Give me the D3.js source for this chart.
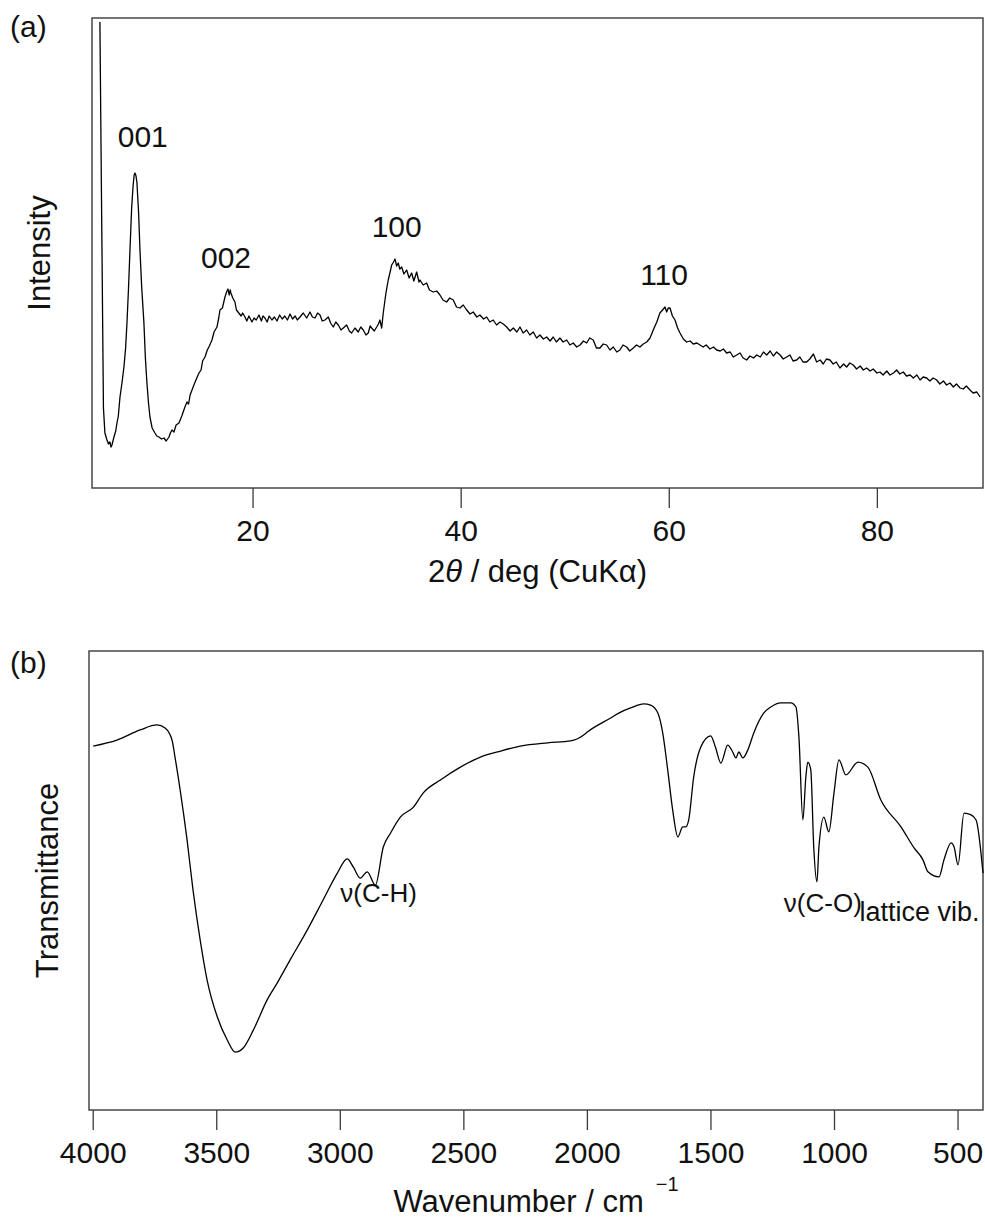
<!DOCTYPE html>
<html>
<head>
<meta charset="utf-8">
<script src="https://cdn.jsdelivr.net/npm/d3@7"></script>
<style>
    body { margin: 0; background: #fff; }
    text { font-family: "Liberation Sans", Arial, Helvetica, sans-serif; fill: #111; }
</style>
</head>
<body>
<svg id="fig" width="985" height="1221"></svg>
<script>
// ---- (a) XRD pattern, 2theta in deg, intensity in arb. units ----
const xrdTwoTheta = [
    5.33, 5.47, 5.67, 5.81, 6.01, 6.15, 6.29, 6.40, 6.49, 6.68, 6.85, 6.97, 7.10, 7.26, 7.45, 7.64, 7.80, 7.93,
    8.08, 8.22, 8.38, 8.51, 8.62, 8.70, 8.80, 8.89, 9.05, 9.18, 9.35, 9.56, 9.70, 9.85, 10.00, 10.14, 10.35, 10.62,
    10.80, 11.00, 11.25, 11.49, 11.70, 11.97, 12.10, 12.26, 12.45, 12.65, 12.93, 13.20, 13.50, 13.70, 13.85, 14.00,
    14.18, 14.40, 14.60, 14.85, 15.05, 15.20, 15.43, 15.65, 15.85, 16.10, 16.30, 16.58, 16.75, 16.87, 17.10, 17.35,
    17.50, 17.64, 17.75, 17.85, 17.92, 18.10, 18.31, 18.45, 18.60, 18.90, 19.05, 19.27, 19.45, 19.65, 19.94, 20.15,
    20.35, 20.62, 20.85, 21.00, 21.19, 21.40, 21.60, 21.86, 22.10, 22.35, 22.60, 22.85, 23.10, 23.35, 23.60, 23.85,
    24.10, 24.30, 24.56, 24.87, 25.20, 25.52, 25.75, 26.00, 26.25, 26.48, 26.70, 26.96, 27.28, 27.50, 27.76, 28.00,
    28.24, 28.50, 28.72, 29.04, 29.30, 29.52, 29.84, 30.16, 30.40, 30.64, 30.90, 31.12, 31.30, 31.45, 31.70, 31.93,
    32.10, 32.24, 32.41, 32.56, 32.82, 33.04, 33.20, 33.37, 33.55, 33.69, 33.85, 34.00, 34.15, 34.33, 34.55, 34.81,
    35.05, 35.29, 35.50, 35.77, 36.00, 36.09, 36.40, 36.73, 37.00, 37.37, 37.70, 38.01, 38.30, 38.65, 38.95, 39.29,
    39.60, 39.93, 40.25, 40.58, 40.90, 41.21, 41.55, 41.85, 42.20, 42.50, 42.80, 43.13, 43.45, 43.78, 44.10, 44.42,
    44.75, 45.06, 45.40, 45.70, 46.00, 46.34, 46.65, 46.98, 47.30, 47.62, 47.95, 48.27, 48.60, 48.90, 49.20, 49.54,
    49.85, 50.19, 50.50, 50.82, 51.15, 51.47, 51.80, 52.11, 52.40, 52.74, 53.05, 53.39, 53.70, 54.03, 54.35, 54.67,
    55.00, 55.31, 55.60, 55.95, 56.25, 56.59, 56.90, 57.23, 57.55, 57.88, 58.20, 58.51, 58.85, 59.15, 59.40, 59.64,
    59.80, 59.95, 60.12, 60.35, 60.60, 60.85, 61.08, 61.40, 61.72, 62.05, 62.36, 62.70, 63.00, 63.30, 63.60, 63.95,
    64.30, 64.60, 64.95, 65.25, 65.56, 65.90, 66.20, 66.53, 66.85, 67.15, 67.49, 67.80, 68.15, 68.45, 68.80, 69.10,
    69.41, 69.75, 70.05, 70.37, 70.70, 71.00, 71.33, 71.65, 71.95, 72.29, 72.60, 72.90, 73.25, 73.55, 73.90, 74.21,
    74.55, 74.85, 75.15, 75.49, 75.80, 76.10, 76.45, 76.80, 77.10, 77.40, 77.73, 78.05, 78.40, 78.70, 79.02, 79.35,
    79.65, 80.00, 80.30, 80.60, 80.95, 81.26, 81.60, 81.90, 82.20, 82.54, 82.85, 83.20, 83.50, 83.85, 84.15, 84.45,
    84.79, 85.10, 85.40, 85.75, 86.05, 86.40, 86.70, 87.03, 87.35, 87.65, 88.00, 88.30, 88.60, 88.95, 89.25, 89.60,
    89.92
];
const xrdIntensity = [
    466, 304, 80, 55, 48, 44, 46, 41, 43, 51, 57, 65, 72, 91, 105, 121, 140, 165,
    200, 238, 280, 301, 313, 315, 312, 305, 275, 238, 200, 165, 130, 105, 85, 71, 60, 55,
    52, 51, 49, 50, 47, 51, 55, 58, 56, 63, 65, 72, 81, 86, 84, 93,
    98, 104, 109, 115, 118, 127, 131, 138, 142, 148, 156, 161, 170, 178, 180, 191,
    196, 199, 193, 198, 195, 190, 186, 178, 176, 172, 175, 171, 167, 172, 166, 170,
    168, 173, 167, 172, 170, 166, 172, 168, 171, 167, 173, 169, 172, 168, 174, 169,
    172, 168, 171, 175, 170, 176, 171, 170, 175, 173, 167, 168, 171, 165, 161, 166,
    163, 158, 160, 163, 157, 155, 160, 156, 161, 158, 153, 155, 162, 160, 157, 161,
    164, 168, 160, 175, 195, 208, 215, 223, 226, 229, 222, 225, 219, 221, 214, 218,
    210, 215, 207, 216, 206, 208, 203, 205, 198, 196, 197, 193, 188, 186, 190, 188,
    181, 180, 183, 178, 174, 176, 171, 173, 169, 171, 166, 168, 163, 166, 164, 161,
    157, 160, 156, 161, 155, 158, 153, 156, 150, 153, 149, 151, 147, 151, 146, 150,
    146, 148, 143, 145, 141, 143, 147, 145, 150, 148, 140, 140, 144, 143, 138, 141,
    136, 138, 143, 141, 137, 140, 143, 141, 144, 146, 150, 158, 166, 175, 178, 181,
    176, 180, 180, 172, 168, 160, 155, 149, 146, 147, 144, 145, 143, 141, 143, 139,
    141, 138, 137, 139, 135, 136, 131, 133, 135, 130, 128, 132, 130, 133, 131, 136,
    133, 137, 132, 136, 133, 129, 131, 133, 127, 128, 131, 126, 126, 129, 134, 126,
    128, 124, 129, 128, 124, 126, 120, 124, 121, 125, 123, 119, 122, 118, 120, 117,
    119, 115, 116, 113, 117, 113, 115, 118, 114, 116, 112, 113, 110, 113, 108, 111,
    110, 107, 110, 108, 104, 107, 103, 105, 101, 104, 100, 99, 102, 98, 95, 96,
    91
];
const xrdTicks = [20, 40, 60, 80];
const xrdPeakNames = ["001", "002", "100", "110"];
const xrdPeakTwoTheta = [9.45, 17.45, 33.85, 59.55];
const xrdPeakLabelLevel = [341, 220, 251, 203];

// ---- (b) FT-IR spectrum, wavenumber in cm-1, transmittance in arb. units ----
const ftirWavenumber = [
    3998, 3902, 3808, 3740, 3707, 3679, 3667, 3646, 3618, 3594, 3565, 3537, 3496, 3456, 3423, 3391,
    3350, 3294, 3253, 3201, 3132, 3067, 3010, 2970, 2945, 2917, 2889, 2856, 2824, 2795, 2755, 2702,
    2662, 2593, 2512, 2431, 2362, 2269, 2159, 2066, 2013, 1997, 1904, 1863, 1823, 1770, 1742, 1713,
    1693, 1673, 1653, 1632, 1612, 1600, 1588, 1568, 1539, 1499, 1479, 1458, 1430, 1410, 1397, 1385,
    1369, 1349, 1325, 1284, 1256, 1215, 1175, 1154, 1142, 1126, 1114, 1106, 1094, 1082, 1069, 1061,
    1041, 1021, 1000, 980, 952, 903, 863, 810, 729, 676, 640, 620, 575, 555, 526, 514,
    498, 474, 445, 425, 397
];
const ftirTransmittance = [
    79.3, 80.6, 82.8, 83.9, 83.2, 80.6, 76.9, 69.7, 58.8, 47.9, 37.0, 28.3, 20.3, 15.3, 12.6, 13.5,
    17.4, 24.0, 27.7, 32.7, 39.2, 45.8, 51.6, 54.7, 52.9, 50.5, 51.9, 49.0, 57.3, 60.3, 63.8, 66.0,
    69.1, 71.9, 74.7, 76.9, 78.0, 79.3, 80.0, 80.4, 81.7, 82.4, 85.4, 86.7, 87.6, 88.5, 88.2, 86.5,
    82.1, 74.1, 65.4, 59.5, 61.7, 61.7, 63.2, 72.5, 79.1, 81.5, 78.9, 75.6, 79.5, 78.0, 76.7, 78.0,
    76.7, 78.4, 82.1, 86.5, 87.8, 88.7, 88.7, 87.8, 81.3, 63.2, 72.5, 75.8, 74.1, 57.3, 49.7, 57.3,
    63.8, 60.6, 69.1, 76.3, 73.0, 75.8, 74.7, 67.5, 61.7, 57.1, 54.5, 51.9, 50.8, 54.5, 58.2, 57.3,
    53.4, 64.7, 64.3, 63.2, 51.6
];
const ftirTicks = [4000, 3500, 3000, 2500, 2000, 1500, 1000, 500];
const ftirBandNames = ["\u03BD(C-H)", "\u03BD(C-O)", "lattice vib."];
const ftirBandWavenumber = [2998, 1203, 897];
const ftirBandLevel = [45.3, 43.1, 41.2];
const ftirBandFontSize = [26, 26, 27];

const svg = d3.select("#fig");
const frameColor = "#3a3a3a";

function drawFrame(view) {
    svg.append("rect")
        .attr("x", view.left)
        .attr("y", view.top)
        .attr("width", view.right - view.left)
        .attr("height", view.bottom - view.top)
        .attr("fill", "none")
        .attr("stroke", frameColor)
        .attr("stroke-width", 1.4);
}

function drawBottomAxis(x, ticks, view) {
    const g = svg.append("g")
        .attr("transform", "translate(0," + view.bottom + ")")
        .call(d3.axisBottom(x).tickValues(ticks).tickSize(20).tickPadding(12).tickFormat(d3.format("d")));
    g.select(".domain").remove();
    g.selectAll(".tick line").attr("stroke", frameColor).attr("stroke-width", 1.3);
    g.selectAll(".tick text")
        .attr("font-family", "Liberation Sans, Arial, sans-serif")
        .attr("font-size", 30)
        .attr("fill", "#111");
    return g;
}

// ================= panel (a) =================
const viewA = {left: 92, top: 18, right: 983, bottom: 488};
const xA = d3.scaleLinear().domain([4.57, 90.2]).range([viewA.left, viewA.right]);
const yA = d3.scaleLinear().domain([0, 470]).range([viewA.bottom, viewA.top]);

drawFrame(viewA);
drawBottomAxis(xA, xrdTicks, viewA);

const xrdData = xrdTwoTheta.map((t, i) => [t, xrdIntensity[i]]);
svg.append("path")
    .datum(xrdData)
    .attr("fill", "none")
    .attr("stroke", "#000")
    .attr("stroke-width", 1.3)
    .attr("stroke-linejoin", "round")
    .attr("d", d3.line().x(d => xA(d[0])).y(d => yA(d[1])));

svg.selectAll("text.peak")
    .data(xrdPeakNames)
    .enter().append("text")
    .attr("class", "peak")
    .attr("x", (d, i) => xA(xrdPeakTwoTheta[i]))
    .attr("y", (d, i) => yA(xrdPeakLabelLevel[i]))
    .attr("text-anchor", "middle")
    .attr("font-size", 30)
    .text(d => d);

svg.append("text")
    .attr("x", 10).attr("y", 37)
    .attr("font-size", 30)
    .text("(a)");

svg.append("text")
    .attr("transform", "translate(50," + (viewA.top + viewA.bottom) / 2 + ") rotate(-90)")
    .attr("text-anchor", "middle")
    .attr("font-size", 31)
    .text("Intensity");

const titleA = svg.append("text")
    .attr("x", (viewA.left + viewA.right) / 2)
    .attr("y", 582)
    .attr("text-anchor", "middle")
    .attr("font-size", 31);
titleA.append("tspan").text("2");
titleA.append("tspan").attr("font-style", "italic").text("\u03B8");
titleA.append("tspan").text(" / deg (CuK\u03B1)");

// ================= panel (b) =================
const viewB = {left: 89, top: 651, right: 983, bottom: 1110};
const xB = d3.scaleLinear().domain([4015, 397]).range([viewB.left, viewB.right]);
const yB = d3.scaleLinear().domain([0, 100]).range([viewB.bottom, viewB.top]);

drawFrame(viewB);
drawBottomAxis(xB, ftirTicks, viewB);

const ftirData = ftirWavenumber.map((w, i) => [w, ftirTransmittance[i]]);
svg.append("path")
    .datum(ftirData)
    .attr("fill", "none")
    .attr("stroke", "#000")
    .attr("stroke-width", 1.3)
    .attr("d", d3.line().curve(d3.curveMonotoneX).x(d => xB(d[0])).y(d => yB(d[1])));

svg.selectAll("text.band")
    .data(ftirBandNames)
    .enter().append("text")
    .attr("class", "band")
    .attr("x", (d, i) => xB(ftirBandWavenumber[i]))
    .attr("y", (d, i) => yB(ftirBandLevel[i]))
    .attr("font-size", (d, i) => ftirBandFontSize[i])
    .text(d => d);

svg.append("text")
    .attr("x", 10).attr("y", 673)
    .attr("font-size", 30)
    .text("(b)");

svg.append("text")
    .attr("transform", "translate(58," + (viewB.top + viewB.bottom) / 2 + ") rotate(-90)")
    .attr("text-anchor", "middle")
    .attr("font-size", 31)
    .text("Transmittance");

const titleB = svg.append("text")
    .attr("x", (viewB.left + viewB.right) / 2)
    .attr("y", 1212)
    .attr("text-anchor", "middle")
    .attr("font-size", 31);
titleB.append("tspan").text("Wavenumber / cm");
titleB.append("tspan").attr("font-size", 20).attr("dx", 12).attr("dy", -21).text("\u22121");
</script>
</body>
</html>
